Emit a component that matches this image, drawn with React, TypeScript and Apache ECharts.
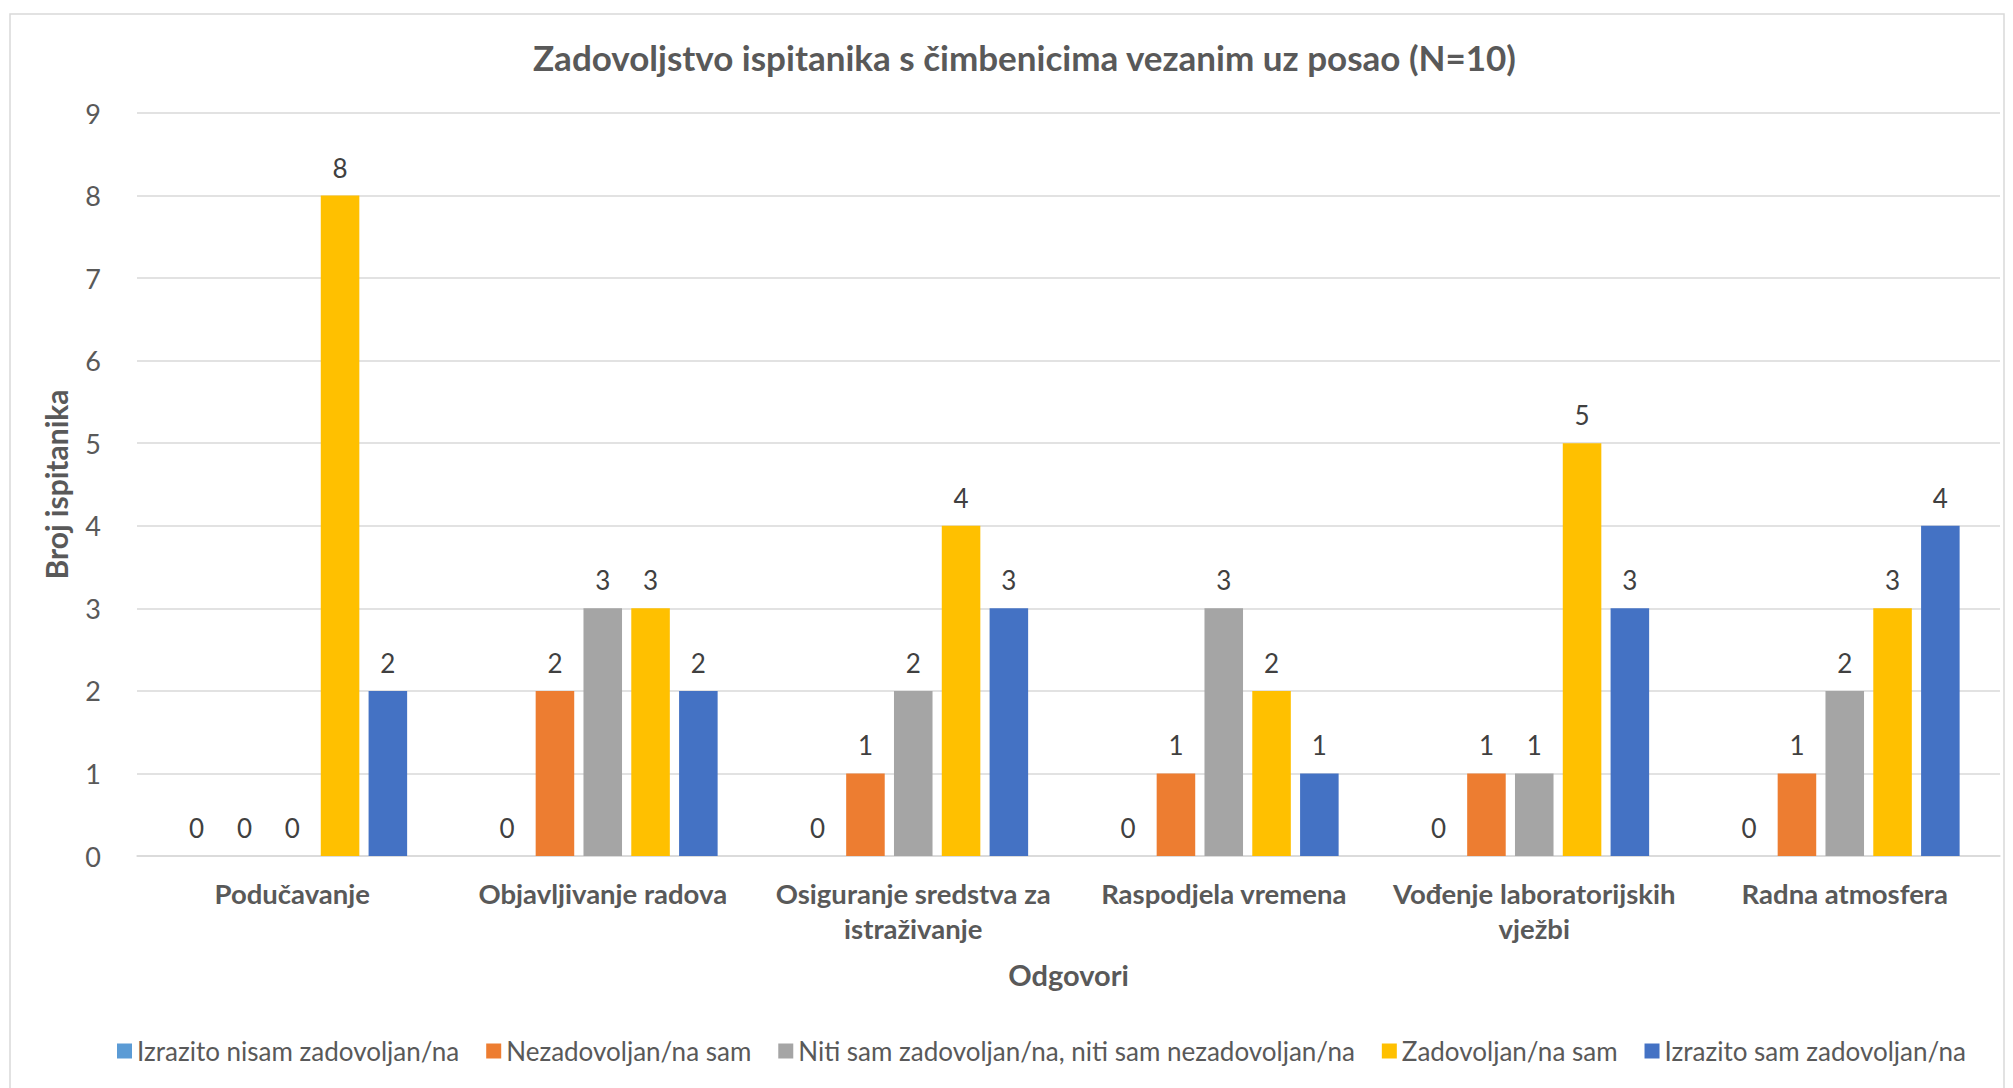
import React, { useEffect, useRef } from "react";
import * as echarts from "echarts";

const categories = [
  "Podučavanje",
  "Objavljivanje radova",
  "Osiguranje sredstva za\nistraživanje",
  "Raspodjela vremena",
  "Vođenje laboratorijskih\nvježbi",
  "Radna atmosfera",
];

const seriesNames = [
  "Izrazito nisam zadovoljan/na",
  "Nezadovoljan/na sam",
  "Niti sam zadovoljan/na, niti sam nezadovoljan/na",
  "Zadovoljan/na sam",
  "Izrazito sam zadovoljan/na",
];

const izrazitoNisam = [0, 0, 0, 0, 0, 0];
const nezadovoljan = [0, 2, 1, 1, 1, 1];
const niti = [0, 3, 2, 3, 1, 2];
const zadovoljan = [8, 3, 4, 2, 5, 3];
const izrazitoSam = [2, 2, 3, 1, 3, 4];

const seriesValues = [izrazitoNisam, nezadovoljan, niti, zadovoljan, izrazitoSam];
const colors = ["#5B9BD5", "#ED7D31", "#A5A5A5", "#FFC000", "#4472C4"];

const FONT = "Lato, 'Open Sans', sans-serif";
const TEXT = "#595959";

export default function App() {
  const ref = useRef<HTMLDivElement>(null);
  useEffect(() => {
    if (!ref.current) return;
    const chart = echarts.init(ref.current, undefined, { renderer: "svg" });
    chart.setOption({
      animation: false,
      backgroundColor: "#ffffff",
      title: {
        text: "Zadovoljstvo ispitanika s čimbenicima vezanim uz posao (N=10)",
        left: 528,
        top: 34,
        textStyle: { fontFamily: FONT, fontSize: 35, fontWeight: "bold", color: TEXT },
      },
      graphic: [
        {
          type: "rect",
          shape: { x: 10, y: 14, width: 1994, height: 1100 },
          style: { fill: "none", stroke: "#D9D9D9", lineWidth: 1.5 },
          silent: true,
          z: -10,
        },
      ],
      legend: {
        data: seriesNames,
        left: 112,
        top: 1033,
        itemWidth: 15,
        itemHeight: 15,
        itemGap: 27,
        icon: "rect",
        textStyle: { fontFamily: FONT, fontSize: 26, color: TEXT, padding: [0, 0, 0, 0] },
      },
      grid: { left: 137, right: 13, top: 113, bottom: 232, containLabel: false },
      xAxis: {
        type: "category",
        data: categories,
        name: "Odgovori",
        nameLocation: "middle",
        nameGap: 104,
        nameTextStyle: { fontFamily: FONT, fontSize: 29, fontWeight: "bold", color: TEXT },
        axisTick: { show: false },
        axisLine: { lineStyle: { color: "#D9D9D9", width: 1.5 } },
        axisLabel: {
          fontFamily: FONT,
          fontSize: 27.5,
          fontWeight: "bold",
          color: TEXT,
          margin: 20,
          lineHeight: 35,
          interval: 0,
        },
      },
      yAxis: {
        type: "value",
        min: 0,
        max: 9,
        interval: 1,
        name: "Broj ispitanika",
        nameLocation: "middle",
        nameGap: 66,
        nameTextStyle: { fontFamily: FONT, fontSize: 30, fontWeight: "bold", color: TEXT },
        axisLabel: { fontFamily: FONT, fontSize: 27, color: TEXT, margin: 36 },
        axisLine: { show: false },
        axisTick: { show: false },
        splitLine: { lineStyle: { color: "#D9D9D9", width: 1.5 } },
      },
      series: seriesNames.map((name, i) => ({
        name,
        type: "bar",
        data: seriesValues[i],
        barGap: "24%",
        barCategoryGap: "26%",
        itemStyle: { color: colors[i] },
        label: {
          show: true,
          position: "top",
          distance: 15,
          fontFamily: FONT,
          fontSize: 26,
          color: "#404040",
        },
      })),
    });
    return () => chart.dispose();
  }, []);
  return (
    <div
      ref={ref}
      style={{ position: "fixed", left: 0, top: 0, width: 2013, height: 1088 }}
    />
  );
}
